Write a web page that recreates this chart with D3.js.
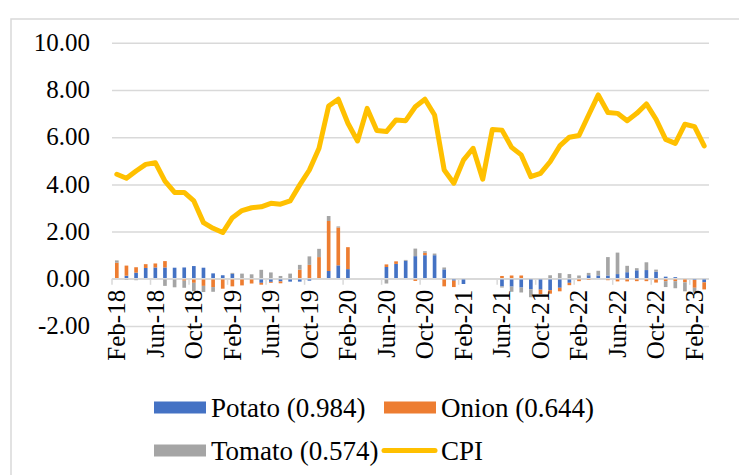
<!DOCTYPE html>
<html lang=en>
<head>
<meta charset="utf-8">
<script src="https://d3js.org/d3.v7.min.js"></script>
<style>
  body {
    margin: 0;
    background: #fff;
  }
  #chart svg {
    font-family: "Liberation Serif", serif;
  }
  #chart text {
    fill: #000;
  }
  .grid line {
    stroke: #d9d9d9;
    stroke-width: 1.5;
  }
  .grid .domain {
    display: none;
  }
</style>
<title>CPI and vegetables</title>
</head>
<body>
<div id="chart"></div>
<script>
// months, Feb-18 .. Mar-23
var months = [
  "Feb-18","Mar-18","Apr-18","May-18","Jun-18","Jul-18","Aug-18","Sep-18","Oct-18","Nov-18","Dec-18",
  "Jan-19","Feb-19","Mar-19","Apr-19","May-19","Jun-19","Jul-19","Aug-19","Sep-19","Oct-19","Nov-19","Dec-19",
  "Jan-20","Feb-20","Mar-20","Apr-20","May-20","Jun-20","Jul-20","Aug-20","Sep-20","Oct-20","Nov-20","Dec-20",
  "Jan-21","Feb-21","Mar-21","Apr-21","May-21","Jun-21","Jul-21","Aug-21","Sep-21","Oct-21","Nov-21","Dec-21",
  "Jan-22","Feb-22","Mar-22","Apr-22","May-22","Jun-22","Jul-22","Aug-22","Sep-22","Oct-22","Nov-22","Dec-22",
  "Jan-23","Feb-23","Mar-23"
];

var cpi = [
  4.43, 4.26, 4.57, 4.85, 4.92, 4.14, 3.66, 3.66, 3.30, 2.38, 2.14,
  1.96, 2.59, 2.89, 3.01, 3.05, 3.20, 3.16, 3.30, 3.98, 4.61, 5.53, 7.32,
  7.61, 6.59, 5.84, 7.22, 6.28, 6.24, 6.73, 6.70, 7.29, 7.61, 6.94, 4.61,
  4.05, 5.03, 5.53, 4.22, 6.33, 6.30, 5.57, 5.25, 4.33, 4.47, 4.96, 5.63,
  6.00, 6.07, 6.94, 7.79, 7.05, 7.01, 6.70, 7.01, 7.41, 6.76, 5.91, 5.74,
  6.55, 6.45, 5.63
];

var potato = [
  0, 0.13, 0.26, 0.46, 0.48, 0.48, 0.47, 0.48, 0.54, 0.47, 0.23,
  0.15, 0.21, 0, 0, -0.17, -0.13, -0.11, -0.12, -0.12, -0.08, 0, 0.33,
  0.57, 0.41, null, null, null, 0.50, 0.63, 0.76, 0.96, 1.00, 1.00, 0.40,
  -0.08, -0.22, null, null, null, -0.32, -0.33, -0.37, -0.44, -0.46, -0.48, -0.38,
  -0.17, 0, 0.15, 0.14, 0.14, 0.20, 0.28, 0.36, 0.37, 0.30, 0.09, 0.07,
  0.02, -0.05, -0.15
];

var onion = [
  0.68, 0.43, 0.23, 0.16, 0.17, 0.27, 0, -0.08, -0.17, -0.30, -0.35,
  -0.42, -0.32, -0.28, -0.20, -0.08, -0.04, -0.08, 0, 0.39, 0.59, 0.92, 2.12,
  1.60, 0.93, null, null, null, 0.11, 0.11, 0, -0.09, 0.10, 0, -0.32,
  -0.27, 0, null, null, null, 0.12, 0.14, 0.14, 0, -0.19, -0.15, -0.15,
  -0.10, -0.10, -0.05, 0, -0.06, -0.11, -0.11, -0.10, -0.10, -0.16, -0.10, -0.10,
  -0.15, -0.33, -0.30
];

var tomato = [
  0.10, -0.05, -0.06, 0, 0, -0.30, -0.36, -0.30, -0.36, -0.26, -0.20,
  0, 0.04, 0.22, 0.19, 0.38, 0.27, 0.12, 0.22, 0.20, 0.36, 0.35, 0.21,
  0.05, 0, null, null, null, -0.20, 0, 0.04, 0.32, 0.07, 0.07, 0.08,
  0, 0, null, null, null, -0.05, -0.22, -0.21, -0.34, 0, 0.15, 0.24,
  0.20, 0.14, 0.10, 0.20, 0.78, 0.91, 0.27, 0.09, 0.33, 0.09, -0.25, -0.30,
  -0.38, -0.21, 0
];

var seriesNames = ["Potato (0.984)", "Onion (0.644)", "Tomato (0.574)", "CPI"];
var yTicks = [-2, 0, 2, 4, 6, 8, 10];

(function() {
  var width = 739,
      height = 475;

  var svg = d3.select("#chart").append("svg")
      .attr("width", width)
      .attr("height", height)
      .attr("font-family", "Liberation Serif, serif");

  // outer frame of the chart area
  svg.append("rect")
      .attr("x", 11)
      .attr("y", 19)
      .attr("width", 760)
      .attr("height", 480)
      .attr("fill", "none")
      .attr("stroke", "#d9d9d9")
      .attr("stroke-width", 1.5);

  var x = d3.scaleBand()
      .domain(months)
      .range([112, 709])
      .padding(0);

  var y = d3.scaleLinear()
      .domain([-2, 10])
      .range([326, 42.8]);

  var color = d3.scaleOrdinal()
      .domain(["potato", "onion", "tomato"])
      .range(["#4472c4", "#ed7d31", "#a5a5a5"]);

  // gridlines
  svg.append("g")
      .attr("class", "grid")
      .attr("transform", "translate(112,0)")
      .call(d3.axisLeft(y).tickValues(yTicks).tickSize(-597).tickFormat(""));

  // y labels
  svg.append("g")
      .selectAll("text")
      .data(yTicks)
      .enter().append("text")
      .attr("x", 90)
      .attr("y", function(d) { return y(d); })
      .attr("dy", "0.33em")
      .attr("text-anchor", "end")
      .style("font-size", "25px")
      .text(function(d) { return d.toFixed(2); });

  // stacked bars, negatives stacked downwards
  var rows = months.map(function(m, i) {
    return { month: m, potato: potato[i] || 0, onion: onion[i] || 0, tomato: tomato[i] || 0 };
  });
  var stacked = d3.stack()
      .keys(["potato", "onion", "tomato"])
      .offset(d3.stackOffsetDiverging)(rows);

  var barW = x.bandwidth() * 0.38;
  svg.append("g")
    .selectAll("g")
    .data(stacked)
    .enter().append("g")
      .attr("fill", function(d) { return color(d.key); })
    .selectAll("rect")
    .data(function(d) { return d; })
    .enter().append("rect")
      .attr("x", function(d) { return x(d.data.month) + (x.bandwidth() - barW) / 2; })
      .attr("y", function(d) { return y(Math.max(d[0], d[1])); })
      .attr("height", function(d) { return Math.abs(y(d[0]) - y(d[1])); })
      .attr("width", barW);

  // category axis on the zero line
  var axisG = svg.append("g");
  axisG.append("line")
      .attr("x1", 112)
      .attr("x2", 709)
      .attr("y1", y(0))
      .attr("y2", y(0))
      .attr("stroke", "#d9d9d9")
      .attr("stroke-width", 1.5);

  var labelled = months.filter(function(m, i) { return i % 4 === 0; });
  axisG.selectAll(".tick")
      .data(labelled)
      .enter().append("line")
      .attr("x1", function(d) { return x(d); })
      .attr("x2", function(d) { return x(d); })
      .attr("y1", y(0))
      .attr("y2", y(0) + 6)
      .attr("stroke", "#d9d9d9")
      .attr("stroke-width", 1.5);

  axisG.selectAll("text")
      .data(labelled)
      .enter().append("text")
      .attr("transform", function(d) {
        return "translate(" + (x(d) + x.bandwidth() / 2) + "," + (y(0) + 11) + ") rotate(-90)";
      })
      .attr("dy", "0.33em")
      .attr("text-anchor", "end")
      .style("font-size", "25px")
      .text(function(d) { return d; });

  // CPI line
  var line = d3.line()
      .x(function(d, i) { return x(months[i]) + x.bandwidth() / 2; })
      .y(function(d) { return y(d); });

  svg.append("path")
      .datum(cpi)
      .attr("d", line)
      .attr("fill", "none")
      .attr("stroke", "#ffc000")
      .attr("stroke-width", 5)
      .attr("stroke-linejoin", "round")
      .attr("stroke-linecap", "round");

  // legend
  var legend = svg.append("g");
  var items = [
    { name: seriesNames[0], c: "#4472c4", x: 154, y: 407.5, kind: "box" },
    { name: seriesNames[1], c: "#ed7d31", x: 384, y: 407.5, kind: "box" },
    { name: seriesNames[2], c: "#a5a5a5", x: 154, y: 450.5, kind: "box" },
    { name: seriesNames[3], c: "#ffc000", x: 384, y: 450.5, kind: "line" }
  ];
  items.forEach(function(it) {
    if (it.kind === "box") {
      legend.append("rect")
          .attr("x", it.x)
          .attr("y", it.y - 6)
          .attr("width", 52)
          .attr("height", 12)
          .attr("fill", it.c);
    } else {
      legend.append("line")
          .attr("x1", it.x)
          .attr("x2", it.x + 51)
          .attr("y1", it.y)
          .attr("y2", it.y)
          .attr("stroke", it.c)
          .attr("stroke-width", 5)
          .attr("stroke-linecap", "round");
    }
    legend.append("text")
        .attr("x", it.x + 57)
        .attr("y", it.y + 9.5)
        .style("font-size", "27px")
        .text(it.name);
  });
})();
</script>
</body>
</html>
